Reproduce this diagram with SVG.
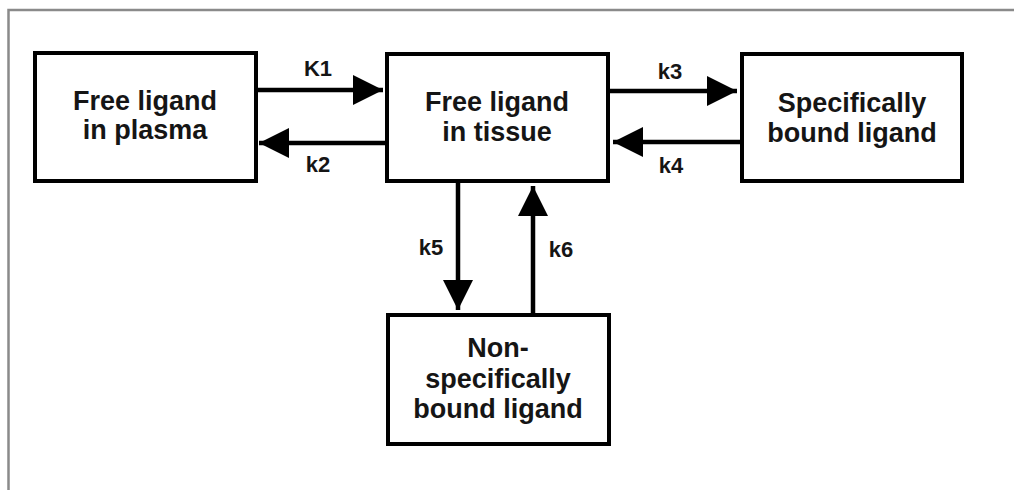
<svg xmlns="http://www.w3.org/2000/svg" width="1014" height="490" viewBox="0 0 1014 490">
  <style>
    .box { fill: #ffffff; stroke: #000000; stroke-width: 4; }
    .edge { stroke: #000000; stroke-width: 4.5; fill: none; }
    .lbl { font-family: "Liberation Sans", Arial, sans-serif; font-weight: bold; font-size: 27px; fill: #151515; text-anchor: middle; }
    .rate { font-family: "Liberation Sans", Arial, sans-serif; font-weight: bold; font-size: 22px; fill: #151515; text-anchor: middle; }
  </style>
  <defs>
    <marker id="head" viewBox="0 0 30 30" refX="30" refY="15" markerWidth="30" markerHeight="30" markerUnits="userSpaceOnUse" orient="auto">
      <path d="M0,0 L30,15 L0,30 Z" fill="#000000"/>
    </marker>
  </defs>

  <rect width="1014" height="490" fill="#ffffff"/>
  <!-- outer frame -->
  <path d="M8.5,490 V10 H1014" fill="none" stroke="#8a8a8a" stroke-width="2.5"/>

  <g id="connectors">
    <line class="edge" x1="256" y1="90" x2="383" y2="90" marker-end="url(#head)"/>
    <line class="edge" x1="387" y1="143" x2="259" y2="143" marker-end="url(#head)"/>
    <line class="edge" x1="608" y1="91" x2="737" y2="91" marker-end="url(#head)"/>
    <line class="edge" x1="742" y1="142" x2="613" y2="142" marker-end="url(#head)"/>
    <line class="edge" x1="458" y1="181" x2="458" y2="310" marker-end="url(#head)"/>
    <line class="edge" x1="533" y1="315" x2="533" y2="186" marker-end="url(#head)"/>
    <text class="rate" x="318" y="76">K1</text>
    <text class="rate" x="318" y="172">k2</text>
    <text class="rate" x="670" y="79">k3</text>
    <text class="rate" x="671" y="173">k4</text>
    <text class="rate" x="431" y="255">k5</text>
    <text class="rate" x="561" y="257">k6</text>
  </g>

  <g id="plasma">
    <rect class="box" x="35" y="53" width="221" height="128"/>
    <text class="lbl" x="145" y="110">Free ligand</text>
    <text class="lbl" x="145" y="139">in plasma</text>
  </g>

  <g id="tissue">
    <rect class="box" x="387" y="54" width="221" height="127"/>
    <text class="lbl" x="497" y="111">Free ligand</text>
    <text class="lbl" x="497" y="141">in tissue</text>
  </g>

  <g id="specific">
    <rect class="box" x="742" y="54" width="220" height="127"/>
    <text class="lbl" x="852" y="112">Specifically</text>
    <text class="lbl" x="852" y="142">bound ligand</text>
  </g>

  <g id="nonspecific">
    <rect class="box" x="388" y="315" width="221" height="129"/>
    <text class="lbl" x="498" y="357">Non-</text>
    <text class="lbl" x="498" y="388">specifically</text>
    <text class="lbl" x="498" y="418">bound ligand</text>
  </g>
</svg>
